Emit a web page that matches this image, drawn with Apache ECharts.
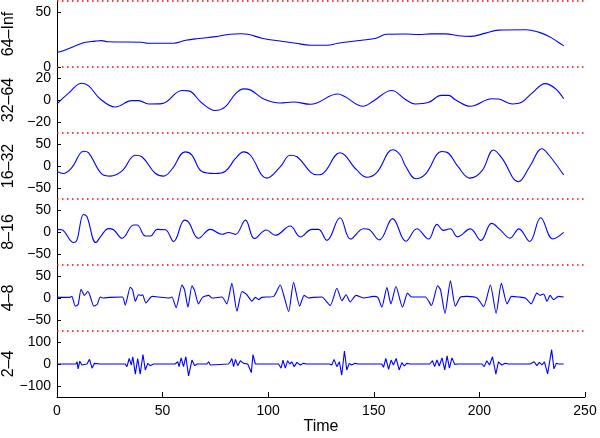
<!DOCTYPE html>
<html>
<head>
<meta charset="utf-8">
<script src="https://cdn.jsdelivr.net/npm/echarts@6/dist/echarts.min.js"></script>
<style>
  html, body { margin: 0; padding: 0; background: #fff; }
  #chart { width: 600px; height: 438px; }
</style>
</head>
<body>
<div id="chart"></div>
<script>
// band names, top to bottom
const bandNames = ['64\u2013Inf', '32\u201364', '16\u201332', '8\u201316', '4\u20138', '2\u20134'];
const xTicks = [0, 50, 100, 150, 200, 250];

// y ranges and tick labels for each band
const bandMin = [0, -30, -75, -75, -75, -150];
const bandMax = [60, 30, 75, 75, 75, 150];
const bandTicks = [[0, 50], [-20, 0, 20], [-50, 0, 50], [-50, 0, 50], [-50, 0, 50], [-100, 0, 100]];

// [time, value]
const band64Inf = [[0,13.1],[4,15.5],[8,18.6],[13,22.2],[18,23.5],[21,24],[24,23],[40,22.5],[43,21.6],[55,21.6],[61,24.3],[67,25.9],[75,27.6],[82,29.8],[87,30.2],[91,29.5],[97,26.2],[107,23.2],[113,21.6],[120,19.8],[128,19.8],[133,21.6],[142,23.8],[151,26.2],[156,29.8],[165,30],[171,29.5],[177,30.1],[184,30.1],[190,28.4],[196,27.8],[203,30.8],[209,33.5],[222,33.8],[228,31.7],[233,27.8],[236.8,23.2],[240,19.2]];
const band3264 = [[0,-3.6],[5.5,6.3],[11.8,15.2],[15,12.8],[20.5,0.9],[27.6,-6.3],[35.5,-0.6],[38.6,-0.6],[43.4,-3.6],[49.7,-3.3],[59.2,8.6],[62.3,8.3],[68.6,-2.7],[74.9,-9.6],[79.6,-6.3],[84.4,5.4],[88.4,10.1],[91.5,9.2],[97.9,0.9],[105.7,-2.7],[112,-1.8],[119.9,-3.9],[123,-2.7],[133,5.4],[136,3.3],[145,-5.7],[149.8,-0.9],[158.5,8.6],[165,0.5],[169.6,-3.6],[176,-2.1],[182,4.2],[185.4,4.2],[188.6,0.3],[195.7,-5.7],[206,1.2],[209,0.9],[215.5,-3.6],[220,-2.1],[224.9,6.3],[231.2,14.9],[235.9,10.5],[239.9,1.2]];
const band1632 = [[0,-12.3],[3,-17],[7,-3.7],[12.6,33.6],[15,30],[21.3,-18.6],[25.2,-23],[30.8,-11.2],[37.1,24.6],[40.2,21],[46.5,-16.4],[50.5,-23],[54.4,-7.4],[60.7,32.2],[63.8,25.5],[68.6,-12.5],[74.9,-17],[79.6,-12.5],[84.4,16.5],[88.4,32.2],[91.5,25],[99.4,-27.5],[105.7,-2],[110.4,24.6],[113.6,21],[123,-20],[125.4,-18.6],[134,30],[141.9,-9],[146.6,-25.5],[151.4,-14.9],[159,37],[162.5,25],[165,0],[170,-29],[174.4,-18.6],[182.3,33],[185.4,29],[190,-2.2],[195.5,-27.5],[201.2,-11],[206.7,36.5],[210.6,18.6],[218.5,-35.8],[224,0],[229.6,39.2],[232.8,25.6],[239.9,-20.5]];
const band816 = [[0,6],[2.3,5],[7.9,-24],[9.4,-19],[12.6,39.8],[14.2,34.6],[18.4,-24],[21,-8],[24.4,7.6],[26.8,5],[30.8,-14.2],[36.3,15.8],[37.9,15.8],[41.9,-9],[44.3,-9],[47.4,6],[51.3,5],[55.2,-21.6],[60.4,27],[62.3,22.5],[67,-14.2],[72.6,6],[78.1,-5.2],[81.2,-1.3],[84.5,-5.3],[89.2,27],[93.5,-14.9],[99.1,4.5],[103.4,-7.5],[110.4,13.5],[115.2,-11.2],[120.7,6],[123.8,6],[127.8,-19],[134,32.4],[139,-16],[145.1,7.5],[147.5,6],[152.6,-18],[158.9,30.5],[165.2,-21],[170.4,7.5],[175.9,-16],[179.9,17.3],[183,3.8],[186.2,7.5],[189.6,-11],[195.7,7],[200.7,-19],[205.8,19.5],[209.8,5.5],[214.5,-14],[218.7,7.2],[223.8,-21.6],[229,32.4],[234.8,-16],[239.9,-1]];
const band48 = [[0,1.5],[6,1.5],[7,3.7],[8.7,-18.5],[10,-14.8],[11.4,20],[13,6],[14.6,14.8],[15.5,7.4],[17.4,-18.5],[19,-14.8],[20.5,2.2],[22.1,0],[25,1.5],[31,2.2],[32.3,-16.3],[34.7,24.4],[35.8,18.5],[37.1,-7.4],[38.6,7.4],[39.9,6],[40.5,7.4],[42.1,-11],[45,3.7],[48,2.2],[52.9,0],[54.4,2.2],[56.4,-22],[59.2,29.6],[60.4,18.5],[62,-20.7],[63.9,28],[65.2,16.3],[67,-13.3],[68.9,1.5],[71.8,6],[73.4,0],[78.1,2.2],[80.4,-13.3],[82.8,33.3],[85.2,-30],[87.6,14.8],[89.9,7.4],[92.3,-7.4],[93.9,1.5],[95.5,-3.7],[97,1.5],[102.6,3.7],[105.7,29.6],[107.3,7.4],[109.7,-31],[112,35.5],[114.9,-18.5],[117,6],[119.1,0],[121.5,1.5],[125.4,2.2],[129.4,-17],[132.5,22.2],[134.9,-6],[136.9,7.4],[138.8,-9],[141.6,6],[145.1,0],[149.8,3.7],[151.9,1.5],[153.8,-20.7],[156.2,23.7],[158.1,-13.3],[160.5,26],[163.6,-20.7],[166,11],[168,2.2],[174.4,2.2],[177.3,-17],[180.2,28],[181.6,18.5],[183.7,-34.8],[186.3,39],[188.6,-18.5],[191.1,2.2],[194.2,3.7],[198.9,0],[202,-20],[205.2,29.6],[207.9,-34.8],[210.4,33.3],[213.1,-13.3],[215.2,3.7],[218.6,2.2],[221.7,0],[224.5,-13.3],[227.2,11],[228.8,6],[230.4,9],[232,-7.4],[233.5,6],[235.1,-3.7],[237.5,3.7],[239.9,2.2]];
const band24 = [[0,0],[9,0],[9.5,10],[10,-22],[10.8,13],[11.8,-4.5],[14.2,0],[15.4,21],[16.6,-19],[17.7,3],[20.5,0],[32.3,0],[33.1,-12],[34.2,25],[35.2,-4.5],[35.9,33],[37.1,-46],[38.2,25],[39.4,-46],[40.7,43],[41.8,-27],[43,3],[44.1,-7.5],[45.7,0],[55.9,0],[57.2,10],[57.8,-12],[58.8,28],[59.9,-12],[61,33],[62.3,-54],[63.9,18],[65.2,-7.5],[66.3,0],[71,0],[71.8,10],[72.6,-4.5],[73.5,0],[81.2,0],[82,10],[82.8,25],[83.6,-12],[84.5,21],[85.6,-7.5],[86.8,15],[88.4,3],[90.3,0],[91.2,-9],[92,-39],[92.8,43],[93.9,0],[95.5,0],[104.9,0],[106.1,-19],[107,18],[108.1,-19],[109.2,15],[110.2,0],[111.2,10],[112.3,-12],[113.6,7.5],[115.2,-4.5],[116.7,3],[118.3,0],[129,0],[130.1,-4.5],[131.2,21],[132.5,-12],[133.7,10],[134.8,-51],[136.1,59],[137.2,-27],[138.4,3],[139.5,-4.5],[141.1,3],[142.7,0],[153.8,0],[154.6,-15],[155.7,25],[157,-24],[158.2,18],[159.3,-4.5],[160.6,25],[162,-27],[163.3,6],[164.4,-9],[165.6,3],[167.2,0],[176.5,0],[177.8,15],[178.8,-12],[179.9,18],[181,-9],[182.3,28],[183.6,-27],[184.7,37],[185.8,-19],[187,28],[188.3,-1.5],[189.8,0],[201.2,0],[202.3,-12],[203.5,15],[204.8,-4.5],[206.2,33],[207.8,-46],[209,10],[210.6,-4.5],[212.2,3],[213.8,0],[224,0],[224.8,-9],[225.9,10],[227.2,-7.5],[228.4,7.5],[229.6,-4.5],[230.8,10],[232.3,-45],[234.2,65],[235.3,-22],[236.4,3],[237.5,0],[239.9,0]];

const bandData = [band64Inf, band3264, band1632, band816, band48, band24];
const bandSmooth = [0.4, 0.4, 0.4, 0.4, 0.2, false];

const FONT = 'Liberation Sans, Arial, Helvetica, sans-serif';
const panelTop = 1;
const panelH = 66;

const chart = echarts.init(document.getElementById('chart'), null, { renderer: 'canvas' });

const grids = [], xAxes = [], yAxes = [], series = [];

bandNames.forEach(function (name, i) {
  grids.push({ left: 57, width: 528, top: panelTop + i * panelH, height: panelH, outerBoundsMode: 'none', containLabel: false });
  const isLast = i === bandNames.length - 1;
  // bottom axis (only the last panel shows it)
  xAxes.push({
    type: 'value', gridIndex: i, min: 0, max: 250, interval: 50,
    show: isLast,
    name: isLast ? 'Time' : '',
    nameLocation: 'middle', nameGap: 22, nameMoveOverlap: false,
    nameTextStyle: { fontFamily: FONT, fontSize: 16, color: '#000' },
    axisLine: { onZero: false, lineStyle: { color: '#000', width: 1 } },
    axisTick: { inside: true, length: 5, lineStyle: { color: '#000' } },
    axisLabel: { fontFamily: FONT, fontSize: 14, color: '#000', margin: 7 },
    splitLine: { show: false }
  });
  yAxes.push({
    type: 'value', gridIndex: i, min: bandMin[i], max: bandMax[i],
    name: name, nameLocation: 'middle', nameRotate: 90, nameGap: 40, nameMoveOverlap: false,
    nameTextStyle: { fontFamily: FONT, fontSize: 16, color: '#000' },
    axisLine: { show: true, onZero: false, lineStyle: { color: '#000', width: 1 } },
    axisTick: { show: true, inside: true, length: 4, customValues: bandTicks[i], lineStyle: { color: '#000' } },
    axisLabel: {
      fontFamily: FONT, fontSize: 14, color: '#000', margin: 6,
      customValues: bandTicks[i],
      formatter: function (v) { return String(v).replace('-', '\u2212'); }
    },
    splitLine: { show: false }
  });
  series.push({
    type: 'line', name: name, xAxisIndex: i, yAxisIndex: i,
    data: bandData[i], showSymbol: false, smooth: bandSmooth[i],
    lineStyle: { color: '#0000ff', width: 1.1 },
    itemStyle: { color: '#0000ff' },
    z: 3,
    // red dotted separator at the top of each panel
    markLine: {
      silent: true, symbol: ['none', 'none'], label: { show: false },
      emphasis: { disabled: true },
      lineStyle: { color: '#ff0000', width: 1.5, type: [1.5, 3.5], opacity: 1 },
      data: [{ yAxis: bandMax[i], lineStyle: { color: '#ff0000' } }]
    }
  });
});

chart.setOption({
  animation: false,
  backgroundColor: '#fff',
  grid: grids,
  xAxis: xAxes,
  yAxis: yAxes,
  series: series
});
</script>
</body>
</html>
